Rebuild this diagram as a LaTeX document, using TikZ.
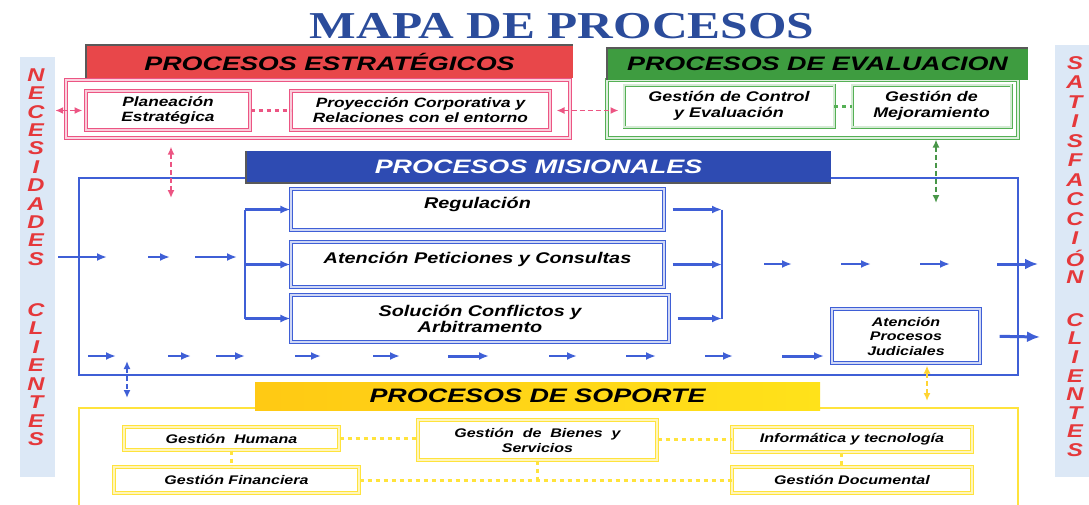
\documentclass[tikz,border=0pt]{standalone}
\usepackage{fontspec}
\setmainfont{Liberation Sans}
\newfontfamily\titlefont{Liberation Serif}[FakeStretch=1.3]
\newfontfamily\hdfont{Liberation Sans}[FakeStretch=1.38]
\newfontfamily\bxfont{Liberation Sans}[FakeStretch=1.28]
\usetikzlibrary{positioning, calc, arrows.meta}
\definecolor{titleblue}{HTML}{2B4C9B}
\definecolor{misblue}{HTML}{3F5FD6}
\definecolor{hdblue}{HTML}{2E4BB2}
\definecolor{hdred}{HTML}{E8474A}
\definecolor{estpink}{HTML}{EC5583}
\definecolor{hdgreen}{HTML}{3E9C40}
\definecolor{evgreen}{HTML}{55B055}
\definecolor{hdyellow}{HTML}{FFE21A}
\definecolor{soyellow}{HTML}{FFE33C}
\definecolor{sidebg}{HTML}{DCE8F6}
\definecolor{sidered}{HTML}{E5383B}
\tikzstyle{BArrow} = [
%blue flow arrow:
line width=2.2pt, draw=misblue,
-{Latex[length=10pt,width=8pt]}
]
\tikzstyle{BOut} = [line width=3pt, draw=misblue, -{Latex[length=13pt,width=11pt]}]
\tikzstyle{DArrow} = [line width=1.8pt, dash pattern=on 5pt off 3pt,
{Latex[length=8pt,width=7pt]}-{Latex[length=8pt,width=7pt]}]
\tikzstyle{Link} = [line width=3pt, dash pattern=on 4pt off 4pt]

\begin{document}
\begin{tikzpicture}[x=1pt, y=-1pt,
		title/.style = {font=\titlefont\bfseries\fontsize{38}{40}\selectfont, text=titleblue},
		header/.style = {rectangle, inner sep=0pt, font=\hdfont\bfseries\itshape\fontsize{19.5}{22}\selectfont},
		frame/.style = {rectangle, inner sep=0pt},
		sidebar/.style = {rectangle, fill=sidebg, inner sep=0pt, minimum width=35},
		sidelet/.style = {text=sidered, inner sep=0pt, font=\bxfont\bfseries\itshape\fontsize{18.5}{18}\selectfont},
		estbox/.style = {rectangle, draw=estpink, double=estpink!30, double distance=1.2pt, line width=1pt, align=center, inner sep=0pt, font=\bxfont\bfseries\itshape\fontsize{13.5}{15}\selectfont},
		evbox/.style = {rectangle, draw=evgreen, double=evgreen!25, double distance=1.2pt, line width=0.9pt, align=center, inner sep=0pt, font=\bxfont\bfseries\itshape\fontsize{14}{15.5}\selectfont},
		misbox/.style = {rectangle, draw=misblue, double=misblue!25, double distance=1.2pt, line width=1.1pt, align=center, inner sep=0pt, font=\bxfont\bfseries\itshape\fontsize{15.5}{16}\selectfont},
		supbox/.style = {rectangle, draw=soyellow, double=soyellow!35, double distance=1.2pt, line width=1pt, align=center, inner sep=0pt, font=\bxfont\bfseries\itshape\fontsize{12.5}{15}\selectfont},
	]
	\useasboundingbox (0,0) rectangle (1089,504);

	\node[title] (ttl) at (562,26) {MAPA DE PROCESOS};

	% side bars
	\node[sidebar, minimum height=420] (lbar) at (37.5,267) {};
	\node[sidebar, minimum height=432, minimum width=36] (rbar) at (1073,261) {};
	\foreach \l [count=\i] in {N,E,C,E,S,I,D,A,D,E,S}
		\node[sidelet] (nl\i) at (36,56.6+18.4*\i) {\l};
	\foreach \l [count=\i] in {C,L,I,E,N,T,E,S}
		\node[sidelet] (nc\i) at (36,291.5+18.5*\i) {\l};
	\foreach \l [count=\i] in {S,A,T,I,S,F,A,C,C,I,Ó,N}
		\node[sidelet] (sl\i) at (1075,43.5+19.5*\i) {\l};
	\foreach \l [count=\i] in {C,L,I,E,N,T,E,S}
		\node[sidelet] (sc\i) at (1075,301.4+18.6*\i) {\l};

	% frames
	\node[frame, draw=estpink, double=estpink!25, line width=1.2pt, double distance=1.5pt, minimum width=504, minimum height=58] (fE) at (318,109) {};
	\node[frame, draw=evgreen, double=evgreen!20, line width=1pt, double distance=1.5pt, minimum width=411, minimum height=58] (fV) at (812.5,109) {};
	\node[frame, draw=misblue, line width=2.5pt, minimum width=939, minimum height=197] (fM) at (548.5,276.5) {};
	\draw[soyellow, line width=2.2pt] (79,515) |- (1018,408) -- (1018,515);

	% headers
	\node[header, fill=hdred, minimum width=487, minimum height=33] (hdE) at (329.5,61.5) {PROCESOS ESTRATÉGICOS};
	\node[header, fill=hdgreen, minimum width=421, minimum height=32] (hdV) at (817.5,64) {PROCESOS DE EVALUACION};
	\node[header, fill=hdblue, text=white, minimum width=585, minimum height=32] (hdM) at (538.5,167) {PROCESOS MISIONALES};
	\node[header, left color=hdyellow!75!orange, right color=hdyellow, minimum width=565, minimum height=28] (hdS) at (537.5,396) {PROCESOS DE SOPORTE};
	\foreach \h in {hdE,hdV}
		\draw[black!65, line width=1.5pt] (\h.south west) |- (\h.north east);
	\draw[black!65, line width=1.5pt] (hdM.north west) |- (hdM.south east);

	% boxes
	\node[estbox, minimum width=164, minimum height=39] (pPE) at (168,110.5) {Planeación\\Estratégica};
	\node[estbox, minimum width=259, minimum height=39] (pPC) at (420.5,110.5) {Proyección Corporativa y\\Relaciones con el entorno};
	\node[evbox, minimum width=210, minimum height=42] (pGC) at (729,106) {Gestión de Control\\y Evaluación};
	\node[evbox, minimum width=159, minimum height=42] (pGM) at (931.5,106) {Gestión de\\Mejoramiento};
	\node[misbox, minimum width=373, minimum height=41, text depth=14pt] (pR) at (477.5,209.5) {Regulación};
	\node[misbox, minimum width=373, minimum height=45, text depth=14pt] (pA) at (477.5,264.5) {Atención Peticiones y Consultas};
	\node[misbox, minimum width=378, minimum height=47] (pS) at (480,318.5) {Solución Conflictos y\\Arbitramento};
	\node[misbox, minimum width=148, minimum height=54, font=\bxfont\bfseries\itshape\fontsize{12.5}{14.5}\selectfont] (pJ) at (906,336) {Atención\\Procesos\\Judiciales};
	\node[supbox, minimum width=215, minimum height=23] (pH) at (231.5,438.5) {Gestión~ Humana};
	\node[supbox, minimum width=245, minimum height=26] (pF) at (236.5,480) {Gestión Financiera};
	\node[supbox, minimum width=239, minimum height=40] (pB) at (537.5,440) {Gestión~ de~ Bienes~ y\\Servicios};
	\node[supbox, minimum width=240, minimum height=25] (pI) at (852,439.5) {Informática y tecnología};
	\node[supbox, minimum width=240, minimum height=26] (pD) at (852,480) {Gestión Documental};

	% strategic and evaluation links
	\draw[DArrow, estpink, shorten >=3] (lbar.east |- pPE.west) -- (pPE.west);
	\draw[Link, estpink] (pPE) -- (pPC);
	\draw[DArrow, estpink, shorten <=6, shorten >=5] (pPC.east) -- (pPC.east -| pGC.west);
	\draw[Link, evgreen] (pGC) -- (pGM);
	\coordinate (eM) at (171,198);
	\draw[DArrow, estpink, shorten <=8] (fE.south -| eM) -- (eM);
	\coordinate (vM) at (936,203);
	\draw[DArrow, evgreen!85!black, shorten <=1] (fV.south -| vM) -- (vM);

	% misional flow
	\foreach \a/\b [count=\i] in {58/107,148/170,195/237}{
		\coordinate (m\i a) at (\a,257); \coordinate (m\i b) at (\b,257);
		\draw[BArrow] (m\i a) -- (m\i b);
	}
	\coordinate (bx) at (245,0);
	\draw[misblue, line width=2.2pt] (pR.west -| bx) -- (pS.west -| bx);
	\foreach \n in {pR,pA,pS}
		\draw[BArrow] (\n.west -| bx) -- (\n.west);
	\coordinate (mx) at (722,0);
	\draw[misblue, line width=2.2pt] (pR.east -| mx) -- (pS.east -| mx);
	\foreach \n in {pR,pA,pS}
		\draw[BArrow, shorten <=8] (\n.east) -- (\n.east -| mx);
	\foreach \a/\b [count=\i] in {764/792,841/871,920/950}{
		\coordinate (r\i a) at (\a,264); \coordinate (r\i b) at (\b,264);
		\draw[BArrow] (r\i a) -- (r\i b);
	}
	\coordinate (o1a) at (997,264); \coordinate (o1b) at (1038,264);
	\draw[BOut] (o1a) -- (o1b);
	\coordinate (o2b) at (1040,337);
	\draw[BOut, shorten <=19] (pJ.east) -- (o2b);
	\foreach \a/\b/\w [count=\i] in {88/116/2.2,168/191/2.2,216/245/2.2,295/321/2.2,373/400/2.2,448/489/3,549/577/2.2,626/656/2.2,705/733/2.2,782/824/3}{
		\coordinate (b\i a) at (\a,356); \coordinate (b\i b) at (\b,356);
		\draw[BArrow, line width=\w pt] (b\i a) -- (b\i b);
	}
	\coordinate (sA) at (127,361); \coordinate (sB) at (127,398);
	\draw[DArrow, misblue] (sA) -- (sB);
	\coordinate (jS) at (927,401);
	\draw[DArrow, soyellow!85!orange, shorten <=2] (pJ.south -| jS) -- (jS);

	% support links
	\draw[Link, soyellow] (pH.east) -- (pH.east -| pB.west);
	\draw[Link, soyellow] (pB.east |- pI.west) -- (pI.west);
	\draw[Link, soyellow] (pH.south) -- (pF.north -| pH.south);
	\draw[Link, soyellow] (pF.east) -- (pD.west);
	\draw[Link, soyellow] (pB.south) -- (pB.south |- pF.east);
	\draw[Link, soyellow] ([xshift=-11pt]pI.south) -- ([xshift=-11pt]pD.north);
\end{tikzpicture}
\end{document}
